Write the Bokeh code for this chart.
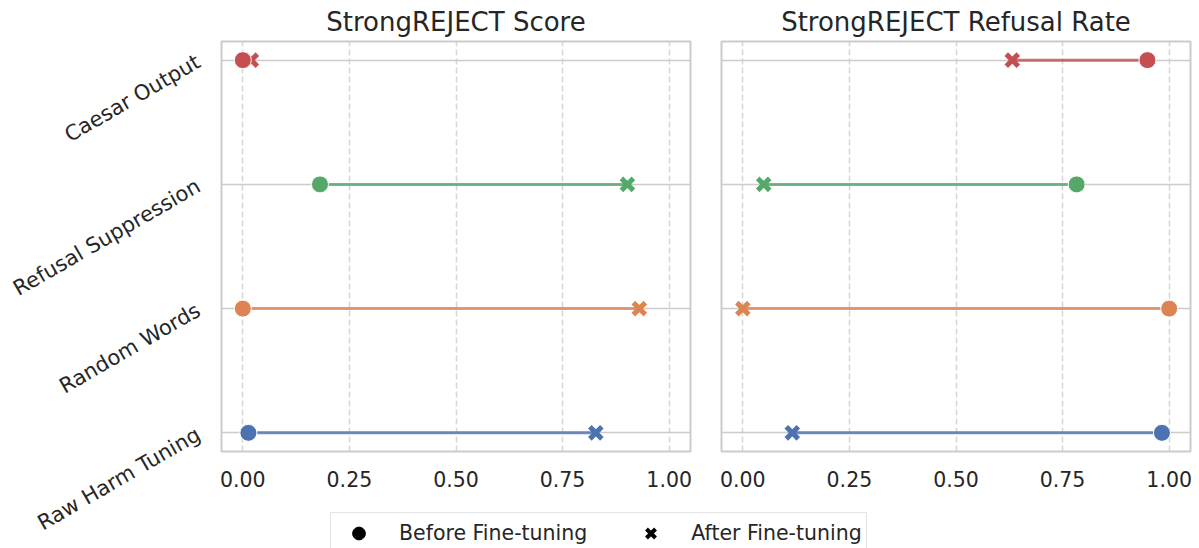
import math
from bokeh.plotting import figure
from bokeh.models import (ColumnDataSource, Range1d, FixedTicker, Legend, LegendItem,
                          NumeralTickFormatter)
from bokeh.layouts import row, column
from bokeh.embed import file_html
from bokeh.resources import INLINE

# ---------------- data ----------------
categories = ["Raw Harm Tuning", "Random Words", "Refusal Suppression", "Caesar Output"]
score_before = [0.013, 0.0, 0.181, 0.0]
score_after = [0.828, 0.93, 0.902, 0.02]
refusal_before = [0.983, 1.0, 0.783, 0.949]
refusal_after = [0.116, 0.0, 0.049, 0.632]
x_ticks = [0.0, 0.25, 0.5, 0.75, 1.0]
x_tick_labels = ["0.00", "0.25", "0.50", "0.75", "1.00"]
panel_titles = ["StrongREJECT Score", "StrongREJECT Refusal Rate"]
legend_labels = ["Before Fine-tuning", "After Fine-tuning"]

# ---------------- style ----------------
palette = ["#4C72B0", "#DD8452", "#55A868", "#C44E52"]
FONT = "DejaVu Sans"
TEXT = "#262626"
EDGE = "#cccccc"
FRAME_W = 469
FRAME_H = 410
TOP = 41
PAGE_H = 548
PANEL_H = 505

cat_pos = list(range(len(categories)))
cat_labels = dict(zip(cat_pos, categories))

shared_y = Range1d(-0.15, len(categories) - 1 + 0.15)


def make_panel(title, before, after, left_border, right_border):
    src = ColumnDataSource(dict(cat=cat_pos, before=before, after=after, color=palette))
    p = figure(width=left_border + FRAME_W + right_border, height=PANEL_H,
               x_range=Range1d(-0.05, 1.05), y_range=shared_y, y_axis_location=None,
               output_backend="svg", toolbar_location=None,
               min_border_left=left_border, min_border_right=right_border,
               min_border_top=TOP, min_border_bottom=PANEL_H - TOP - FRAME_H)
    p.title.text = title
    p.title.align = "center"
    p.title.text_font = FONT
    p.title.text_font_size = "26px"
    p.title.text_font_style = "normal"
    p.title.text_color = TEXT
    p.title.standoff = 9

    p.outline_line_color = EDGE
    p.outline_line_width = 2

    p.xaxis.ticker = FixedTicker(ticks=x_ticks)
    p.xaxis.formatter = NumeralTickFormatter(format="0.00")
    p.xaxis.major_label_overrides = dict(zip(x_ticks, x_tick_labels))
    p.xaxis.axis_line_color = None
    p.xaxis.major_tick_line_color = None
    p.xaxis.minor_tick_line_color = None
    p.xaxis.major_label_text_font = FONT
    p.xaxis.major_label_text_font_size = "20.5px"
    p.xaxis.major_label_text_color = TEXT
    p.xaxis.major_label_standoff = 13

    p.xgrid.ticker = FixedTicker(ticks=x_ticks)
    p.xgrid.grid_line_color = EDGE
    p.xgrid.grid_line_alpha = 0.8
    p.xgrid.grid_line_width = 1.5
    p.xgrid.grid_line_dash = "6 3"
    p.ygrid.ticker = FixedTicker(ticks=cat_pos)
    p.ygrid.grid_line_color = EDGE
    p.ygrid.grid_line_alpha = 1.0
    p.ygrid.grid_line_width = 1.5
    p.ygrid.minor_grid_line_color = None

    p.segment(x0="before", y0="cat", x1="after", y1="cat", source=src,
              line_color="color", line_width=3, line_alpha=0.8)
    p.scatter(x="after", y="cat", source=src, marker="x", size=17,
              line_color="color", line_width=5)
    p.scatter(x="before", y="cat", source=src, marker="circle", size=17,
              fill_color="color", line_color="white", line_width=1)
    return p


p1 = make_panel(panel_titles[0], score_before, score_after, 3, 14)
p2 = make_panel(panel_titles[1], refusal_before, refusal_after, 17, 8)

# y labels column
lab = figure(width=218, height=PAGE_H, x_range=Range1d(0, 1), y_range=shared_y,
             x_axis_location=None, y_axis_location="left",
             min_border_left=215, min_border_right=0, min_border_top=TOP,
             min_border_bottom=PAGE_H - TOP - FRAME_H,
             output_backend="svg", toolbar_location=None)
lab.outline_line_color = None
lab.grid.visible = False
lab.yaxis.ticker = FixedTicker(ticks=cat_pos)
lab.yaxis.major_label_overrides = cat_labels
lab.yaxis.major_label_orientation = math.pi / 6
lab.yaxis.axis_line_color = None
lab.yaxis.major_tick_line_color = None
lab.yaxis.minor_tick_line_color = None
lab.yaxis.major_label_standoff = 13
lab.yaxis.major_label_text_font = FONT
lab.yaxis.major_label_text_font_size = "21px"
lab.yaxis.major_label_text_color = TEXT

# legend strip
leg = figure(width=p1.width + p2.width, height=PAGE_H - PANEL_H,
             x_range=Range1d(0, 1), y_range=Range1d(0, 1),
             x_axis_location=None, y_axis_location=None, min_border=0,
             output_backend="svg", toolbar_location=None)
leg.outline_line_color = None
leg.grid.visible = False
nan = float("nan")
r_before = leg.scatter(x=[nan], y=[nan], marker="circle", fill_color="black", line_color="black")
r_after = leg.scatter(x=[nan], y=[nan], marker="x", line_color="black", line_width=4)
legend = Legend(items=[LegendItem(label=legend_labels[0], renderers=[r_before]),
                       LegendItem(label=legend_labels[1], renderers=[r_after])],
                orientation="horizontal", location=(112, -6), margin=0, padding=4,
                glyph_width=47, glyph_height=32, label_standoff=17, spacing=40,
                border_line_color=EDGE, border_line_width=1,
                background_fill_color="white", background_fill_alpha=0.8,
                label_text_font=FONT, label_text_font_size="20.5px", label_text_color=TEXT)
leg.add_layout(legend)

layout = row(lab, column(row(p1, p2), leg))
open("out.html", "w").write(file_html(layout, INLINE))
